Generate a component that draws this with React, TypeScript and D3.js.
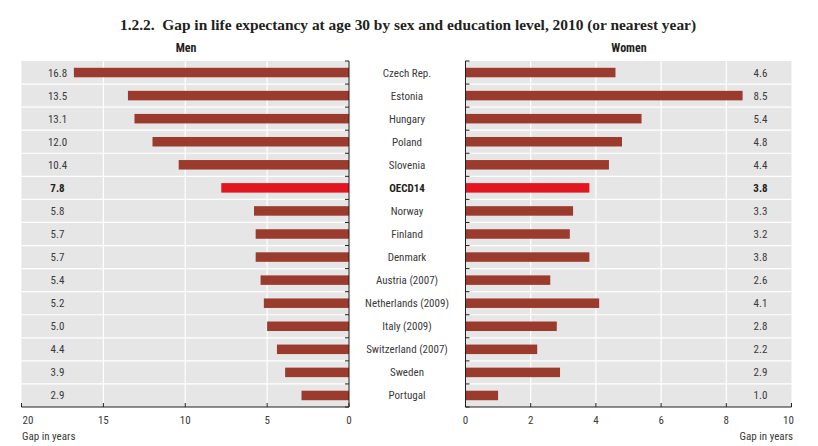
import React from "react";
import * as d3 from "d3";

const countries = ["Czech Rep.", "Estonia", "Hungary", "Poland", "Slovenia", "OECD14", "Norway", "Finland", "Denmark", "Austria (2007)", "Netherlands (2009)", "Italy (2009)", "Switzerland (2007)", "Sweden", "Portugal"];
const menValues = [16.8, 13.5, 13.1, 12.0, 10.4, 7.8, 5.8, 5.7, 5.7, 5.4, 5.2, 5.0, 4.4, 3.9, 2.9];
const womenValues = [4.6, 8.5, 5.4, 4.8, 4.4, 3.8, 3.3, 3.2, 3.8, 2.6, 4.1, 2.8, 2.2, 2.9, 1.0];
const menTicks = [20, 15, 10, 5, 0];
const womenTicks = [0, 2, 4, 6, 8, 10];
const highlight = "OECD14";

const W = 818, H = 446;
const TOP = 61, BOTTOM = 407;
const LEFT_X0 = 21.5, LEFT_X1 = 349;
const RIGHT_X0 = 465.5, RIGHT_X1 = 791.5;
const BAR = "#9a3b2e";
const RED = "#e2161f";
const BG = "#e6e6e6";
const FONT = "'Roboto Condensed', 'Liberation Sans Narrow', 'Arial Narrow', Roboto, sans-serif";
const TXT = "#231f20";
const LBL = "#3a3a3a";

export default function App() {
  const y = d3.scaleBand<string>().domain(countries).range([TOP, BOTTOM]).paddingInner(0).paddingOuter(0);
  const bh = 9.5;
  const xm = d3.scaleLinear().domain([20, 0]).range([LEFT_X0, LEFT_X1]);
  const xw = d3.scaleLinear().domain([0, 10]).range([RIGHT_X0, RIGHT_X1]);
  const boundaries = d3.range(countries.length + 1).map((i) => TOP + i * y.bandwidth());
  const st = { fontStretch: "condensed" } as React.CSSProperties;

  return (
    <svg width={W} height={H} style={{ position: "absolute", left: 0, top: 0, background: "#fff" }} fontFamily={FONT}>
      <text x={408} y={30} textAnchor="middle" fontFamily="'Liberation Serif', 'DejaVu Serif', serif" fontWeight="bold" fontSize={15.4} fill={TXT}>
        1.2.2.{"\u00a0\u00a0"}Gap in life expectancy at age 30 by sex and education level, 2010 (or nearest year)
      </text>
      <text x={186} y={52} textAnchor="middle" fontWeight="bold" fontSize={12} fill={TXT} style={st}>Men</text>
      <text x={629} y={52} textAnchor="middle" fontWeight="bold" fontSize={12} fill={TXT} style={st}>Women</text>

      {/* Men panel */}
      <rect x={LEFT_X0} y={TOP} width={LEFT_X1 - LEFT_X0} height={BOTTOM - TOP} fill={BG} />
      {menTicks.filter((t) => t !== 20 && t !== 0).map((t) => (
        <line key={"mg" + t} x1={xm(t)} x2={xm(t)} y1={TOP} y2={BOTTOM} stroke="#fff" strokeWidth={1.2} />
      ))}
      {boundaries.slice(1, -1).map((b, i) => (
        <line key={"mb" + i} x1={LEFT_X0} x2={LEFT_X1} y1={b} y2={b} stroke="#fff" strokeWidth={1.2} />
      ))}
      {countries.map((c, i) => (
        <rect key={"m" + c} x={xm(menValues[i])} y={(y(c) as number) + y.bandwidth() / 2 - bh / 2} width={xm(0) - xm(menValues[i])} height={bh} fill={c === highlight ? RED : BAR} />
      ))}
      {countries.map((c, i) => (
        <text key={"ml" + c} x={LEFT_X0 + 36} y={(y(c) as number) + y.bandwidth() / 2 + 4} textAnchor="middle" fontSize={11} fontWeight={c === highlight ? "bold" : "normal"} fill={c === highlight ? TXT : LBL} style={st}>
          {d3.format(".1f")(menValues[i])}
        </text>
      ))}
      <line x1={LEFT_X1} x2={LEFT_X1} y1={TOP} y2={BOTTOM} stroke={TXT} strokeWidth={1} />
      {boundaries.map((b, i) => (
        <line key={"mt" + i} x1={LEFT_X1 - 4} x2={LEFT_X1} y1={b} y2={b} stroke={TXT} strokeWidth={1} />
      ))}
      <line x1={LEFT_X0} x2={LEFT_X1} y1={BOTTOM} y2={BOTTOM} stroke={TXT} strokeWidth={1.2} />
      {menTicks.map((t, i) => (
        <g key={"mx" + t}>
          <line x1={xm(t)} x2={xm(t)} y1={BOTTOM - 4} y2={BOTTOM} stroke={TXT} />
          <text x={i === 0 ? xm(t) + 1 : xm(t)} y={424} textAnchor={i === 0 ? "start" : "middle"} fontSize={11} fill={LBL} style={st}>{t}</text>
        </g>
      ))}
      <text x={22} y={440} fontSize={11} fill={LBL} style={st}>Gap in years</text>

      {/* Country labels */}
      {countries.map((c) => (
        <text key={"c" + c} x={407} y={(y(c) as number) + y.bandwidth() / 2 + 4} textAnchor="middle" fontSize={11} fontWeight={c === highlight ? "bold" : "normal"} fill={c === highlight ? TXT : LBL} style={st}>{c}</text>
      ))}

      {/* Women panel */}
      <rect x={RIGHT_X0} y={TOP} width={RIGHT_X1 - RIGHT_X0} height={BOTTOM - TOP} fill={BG} />
      {womenTicks.filter((t) => t !== 0 && t !== 10).map((t) => (
        <line key={"wg" + t} x1={xw(t)} x2={xw(t)} y1={TOP} y2={BOTTOM} stroke="#fff" strokeWidth={1.2} />
      ))}
      {boundaries.slice(1, -1).map((b, i) => (
        <line key={"wb" + i} x1={RIGHT_X0} x2={RIGHT_X1} y1={b} y2={b} stroke="#fff" strokeWidth={1.2} />
      ))}
      {countries.map((c, i) => (
        <rect key={"w" + c} x={xw(0)} y={(y(c) as number) + y.bandwidth() / 2 - bh / 2} width={xw(womenValues[i]) - xw(0)} height={bh} fill={c === highlight ? RED : BAR} />
      ))}
      {countries.map((c, i) => (
        <text key={"wl" + c} x={RIGHT_X1 - 31} y={(y(c) as number) + y.bandwidth() / 2 + 4} textAnchor="middle" fontSize={11} fontWeight={c === highlight ? "bold" : "normal"} fill={c === highlight ? TXT : LBL} style={st}>
          {d3.format(".1f")(womenValues[i])}
        </text>
      ))}
      <line x1={RIGHT_X0} x2={RIGHT_X0} y1={TOP} y2={BOTTOM} stroke={TXT} strokeWidth={1} />
      {boundaries.map((b, i) => (
        <line key={"wt" + i} x1={RIGHT_X0} x2={RIGHT_X0 + 4} y1={b} y2={b} stroke={TXT} strokeWidth={1} />
      ))}
      <line x1={RIGHT_X0} x2={RIGHT_X1} y1={BOTTOM} y2={BOTTOM} stroke={TXT} strokeWidth={1.2} />
      {womenTicks.map((t, i) => (
        <g key={"wx" + t}>
          <line x1={xw(t)} x2={xw(t)} y1={BOTTOM - 4} y2={BOTTOM} stroke={TXT} />
          <text x={i === womenTicks.length - 1 ? xw(t) - 3 : xw(t)} y={424} textAnchor="middle" fontSize={11} fill={LBL} style={st}>{t}</text>
        </g>
      ))}
      <text x={793} y={440} textAnchor="end" fontSize={11} fill={LBL} style={st}>Gap in years</text>
    </svg>
  );
}
